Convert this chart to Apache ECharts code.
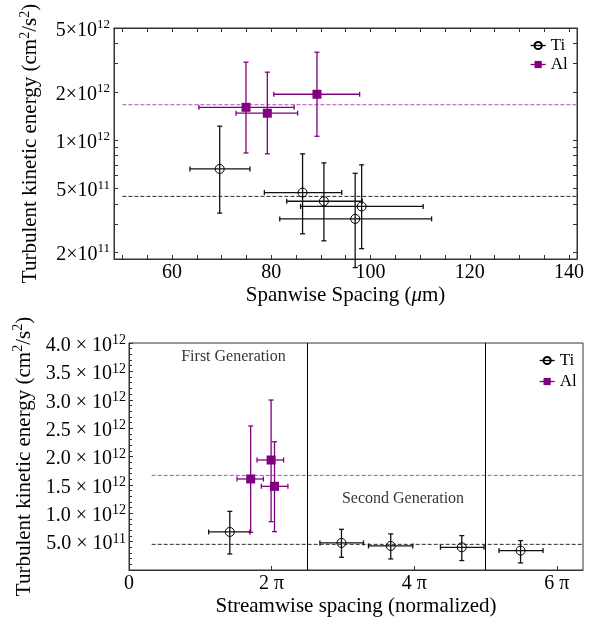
<!DOCTYPE html>
<html>
<head>
<meta charset="utf-8">
<script src="https://cdn.jsdelivr.net/npm/echarts@6/dist/echarts.min.js"></script>
<style>
  html, body { margin: 0; padding: 0; background: #fff; }
  #main { width: 601px; height: 625px; }
</style>
</head>
<body>
<div id="main"></div>
<script>
// ---------- top panel: TKE vs spanwise spacing (um) ----------
var tiX    = [69.6, 86.3, 90.6, 98.2, 96.9];
var tiY    = [6.6e11, 4.7e11, 4.15e11, 3.85e11, 3.22e11];
var tiXlo  = [63.6, 78.6, 83.1, 85.9, 81.7];
var tiXhi  = [75.7, 94.2, 98.3, 110.6, 112.3];
var tiYlo  = [3.5e11, 2.6e11, 2.35e11, 2.1e11, 1.6e11];
var tiYhi  = [1.22e12, 8.2e11, 7.2e11, 7.0e11, 6.2e11];

var alX    = [74.9, 79.2, 89.2];
var alY    = [1.6e12, 1.47e12, 1.93e12];
var alXlo  = [65.4, 72.9, 80.5];
var alXhi  = [84.6, 85.3, 97.8];
var alYlo  = [8.3e11, 8.2e11, 1.055e12];
var alYhi  = [3.06e12, 2.65e12, 3.53e12];

var topMeanTi = 4.45e11;
var topMeanAl = 1.66e12;
var topMeanFrom = 50;
var topXRange = [48.3, 141.6];
var topYRange = [1.81e11, 5e12];
var topXTicks  = [50, 55, 60, 65, 70, 75, 80, 85, 90, 95, 100, 105, 110, 115, 120, 125, 130, 135, 140];
var topXLabels = [60, 80, 100, 120, 140];
var topYTicks  = [2e11, 3e11, 4e11, 5e11, 6e11, 7e11, 8e11, 9e11, 1e12, 2e12, 3e12, 4e12, 5e12];
var topYLabels = [2e11, 5e11, 1e12, 2e12, 5e12];

// ---------- bottom panel: TKE vs streamwise spacing (normalized) ----------
var ti2X   = [4.44, 9.36, 11.53, 14.66, 17.25];
var ti2Y   = [6.71e11, 4.77e11, 4.24e11, 4.0e11, 3.42e11];
var ti2Xlo = [3.51, 8.41, 10.55, 13.72, 16.3];
var ti2Xhi = [5.33, 10.33, 12.5, 15.64, 18.24];
var ti2Ylo = [2.83e11, 2.24e11, 1.95e11, 1.66e11, 1.25e11];
var ti2Yhi = [1.033e12, 7.17e11, 6.36e11, 6.06e11, 5.18e11];

var al2X   = [5.36, 6.26, 6.41];
var al2Y   = [1.604e12, 1.938e12, 1.474e12];
var al2Xlo = [4.76, 5.64, 5.83];
var al2Xhi = [5.92, 6.81, 7.0];
var al2Ylo = [6.64e11, 8.52e11, 6.76e11];
var al2Yhi = [2.537e12, 2.995e12, 2.26e12];

var botMeanTi = 4.52e11;
var botMeanAl = 1.667e12;
var botMeanFrom = 1.0;
var botXRange = [0, 20];
var botYRange = [0, 4e12];
var botXTicks = [0, 2 * Math.PI, 4 * Math.PI, 6 * Math.PI];
var botXTickNames = ['0', '2 π', '4 π', '6 π'];
var generationEdges = [2.5 * Math.PI, 5 * Math.PI];
var genNames = ['First Generation', 'Second Generation'];
var genPos   = [[4.6, 3.76e12], [12.07, 1.257e12]];

var FONT = 'Liberation Serif';
var PURPLE = '#800080';
var PURPLE_DASH = '#b050b0';
var BLACK_DASH = '#2a2a2a';
var AXIS = '#333';

function rows(x, y, xlo, xhi, ylo, yhi) {
  var out = [];
  for (var i = 0; i < x.length; i++) out.push([x[i], y[i], xlo[i], xhi[i], ylo[i], yhi[i]]);
  return out;
}
function pts(x, y) {
  var out = [];
  for (var i = 0; i < x.length; i++) out.push([x[i], y[i]]);
  return out;
}

// error bars with small caps
function errorBars(color) {
  return function (params, api) {
    var x = api.value(0), y = api.value(1);
    var l = api.coord([api.value(2), y]);
    var r = api.coord([api.value(3), y]);
    var b = api.coord([x, api.value(4)]);
    var t = api.coord([x, api.value(5)]);
    var cap = 2.5;
    var st = { stroke: color, lineWidth: 1.3 };
    function ln(x1, y1, x2, y2) {
      return { type: 'line', shape: { x1: x1, y1: y1, x2: x2, y2: y2 }, style: st };
    }
    return {
      type: 'group',
      children: [
        ln(l[0], l[1], r[0], r[1]),
        ln(l[0], l[1] - cap, l[0], l[1] + cap),
        ln(r[0], r[1] - cap, r[0], r[1] + cap),
        ln(b[0], b[1], t[0], t[1]),
        ln(b[0] - cap, b[1], b[0] + cap, b[1]),
        ln(t[0] - cap, t[1], t[0] + cap, t[1])
      ]
    };
  };
}

// "5×10^12" style labels
function sci(v, digits, sep) {
  var e = Math.floor(Math.log10(v) + 1e-9);
  var m = v / Math.pow(10, e);
  return '{n|' + m.toFixed(digits) + sep + '×' + sep + '10}{s|' + e + '}';
}

var tickRich = {
  n: { fontFamily: FONT, fontSize: 20, color: '#000', lineHeight: 24 },
  s: { fontFamily: FONT, fontSize: 13, color: '#000', lineHeight: 13, verticalAlign: 'top' }
};
var tickRich2 = {
  n: { fontFamily: FONT, fontSize: 20, color: '#000', lineHeight: 24 },
  s: { fontFamily: FONT, fontSize: 14, color: '#000', lineHeight: 14, verticalAlign: 'top' }
};
var yName = '{n|Turbulent kinetic energy (cm}{s|2}{n|/s}{s|2}{n|)}';
var yNameStyle = {
  rich: {
    n: { fontFamily: FONT, fontSize: 21, color: '#000', lineHeight: 25 },
    s: { fontFamily: FONT, fontSize: 14, color: '#000', lineHeight: 14, verticalAlign: 'top' }
  }
};
var axLine = { lineStyle: { color: AXIS, width: 1 } };

var chart = echarts.init(document.getElementById('main'));

chart.setOption({
  animation: false,
  backgroundColor: '#fff',
  textStyle: { fontFamily: FONT },
  grid: [
    { left: 114, top: 28, width: 463, height: 231, show: true, borderColor: AXIS, borderWidth: 1 },
    { left: 129, top: 343, width: 454, height: 227, show: true, borderColor: AXIS, borderWidth: 1 }
  ],
  legend: [
    {
      orient: 'vertical', left: 525, top: 32, itemWidth: 15, itemHeight: 9, itemGap: 2,
      textStyle: { fontFamily: FONT, fontSize: 17, color: '#000' },
      data: [
        { name: 'Ti', lineStyle: { opacity: 1, color: '#000', width: 1.3 } },
        { name: 'Al', lineStyle: { opacity: 1, color: PURPLE, width: 1.3 } }
      ]
    },
    {
      orient: 'vertical', left: 534, top: 347, itemWidth: 15, itemHeight: 9, itemGap: 4,
      textStyle: { fontFamily: FONT, fontSize: 17, color: '#000' },
      data: [
        { name: 'Ti', lineStyle: { opacity: 1, color: '#000', width: 1.3 } },
        { name: 'Al', lineStyle: { opacity: 1, color: PURPLE, width: 1.3 } }
      ]
    }
  ],
  xAxis: [
    {
      gridIndex: 0, type: 'value', position: 'bottom', min: topXRange[0], max: topXRange[1],
      axisLine: axLine, splitLine: { show: false },
      axisTick: { inside: true, length: 4, customValues: topXTicks, lineStyle: { color: AXIS } },
      axisLabel: { customValues: topXLabels, fontSize: 20, color: '#000', margin: 4 },
      name: '{n|Spanwise Spacing (}{i|μ}{n|m)}', nameLocation: 'middle', nameGap: 26,
      nameTextStyle: { rich: {
        n: { fontFamily: FONT, fontSize: 21, color: '#000' },
        i: { fontFamily: FONT, fontSize: 21, color: '#000', fontStyle: 'italic' }
      } }
    },
    {
      gridIndex: 0, type: 'value', position: 'top', min: topXRange[0], max: topXRange[1],
      axisLine: axLine, splitLine: { show: false },
      axisTick: { inside: true, length: 4, customValues: topXTicks, lineStyle: { color: AXIS } },
      axisLabel: { show: false }
    },
    {
      gridIndex: 1, type: 'value', min: botXRange[0], max: botXRange[1],
      axisLine: axLine, splitLine: { show: false },
      axisTick: { inside: true, length: 4, customValues: botXTicks, lineStyle: { color: AXIS } },
      axisLabel: {
        customValues: botXTicks, fontSize: 20, color: '#000', margin: 4,
        formatter: function (v) {
          for (var i = 0; i < botXTicks.length; i++) {
            if (Math.abs(v - botXTicks[i]) < 1e-6) return botXTickNames[i];
          }
          return '';
        }
      },
      name: 'Streamwise spacing (normalized)', nameLocation: 'middle', nameGap: 26,
      nameTextStyle: { fontFamily: FONT, fontSize: 21, color: '#000' }
    }
  ],
  yAxis: [
    {
      gridIndex: 0, type: 'log', logBase: 10, position: 'left', min: topYRange[0], max: topYRange[1],
      axisLine: axLine, splitLine: { show: false },
      axisTick: { inside: true, length: 4, customValues: topYTicks, lineStyle: { color: AXIS } },
      axisLabel: {
        customValues: topYLabels, margin: 4, padding: [5, 0, 0, 0], rich: tickRich,
        formatter: function (v) { return sci(v, 0, ''); }
      },
      name: yName, nameLocation: 'middle', nameGap: 71, nameRotate: 90, nameTextStyle: yNameStyle
    },
    {
      gridIndex: 0, type: 'log', logBase: 10, position: 'right', min: topYRange[0], max: topYRange[1],
      axisLine: axLine, splitLine: { show: false },
      axisTick: { inside: true, length: 4, customValues: topYTicks, lineStyle: { color: AXIS } },
      axisLabel: { show: false }
    },
    {
      gridIndex: 1, type: 'value', min: botYRange[0], max: botYRange[1], interval: 5e11,
      axisLine: axLine, splitLine: { show: false },
      axisTick: { inside: true, length: 4, lineStyle: { color: AXIS } },
      minorTick: { show: true, splitNumber: 5, length: 3, lineStyle: { color: AXIS } },
      axisLabel: {
        margin: 3, padding: [5, 0, 0, 0], rich: tickRich2,
        formatter: function (v) { return v === 0 ? '' : sci(v, 1, ' '); }
      },
      name: yName, nameLocation: 'middle', nameGap: 86, nameRotate: 90, nameTextStyle: yNameStyle
    }
  ],
  series: [
    // ----- top panel -----
    { type: 'line', silent: true, xAxisIndex: 0, yAxisIndex: 0, showSymbol: false, z: 1,
      data: [[topMeanFrom, topMeanTi], [topXRange[1], topMeanTi]],
      lineStyle: { color: BLACK_DASH, width: 1, type: [4, 2] } },
    { type: 'line', silent: true, xAxisIndex: 0, yAxisIndex: 0, showSymbol: false, z: 1,
      data: [[topMeanFrom, topMeanAl], [topXRange[1], topMeanAl]],
      lineStyle: { color: PURPLE_DASH, width: 1, type: [4, 2] } },
    { type: 'custom', xAxisIndex: 0, yAxisIndex: 0, clip: false, z: 2,
      renderItem: errorBars('#111'), encode: { x: 0, y: 1 },
      data: rows(tiX, tiY, tiXlo, tiXhi, tiYlo, tiYhi) },
    { type: 'custom', xAxisIndex: 0, yAxisIndex: 0, clip: false, z: 2,
      renderItem: errorBars(PURPLE), encode: { x: 0, y: 1 },
      data: rows(alX, alY, alXlo, alXhi, alYlo, alYhi) },
    { name: 'Ti', type: 'line', xAxisIndex: 0, yAxisIndex: 0, z: 3, showAllSymbol: true,
      symbol: 'circle', symbolSize: 9,
      itemStyle: { color: 'rgba(0,0,0,0)', borderColor: '#000', borderWidth: 1 },
      lineStyle: { color: '#000', opacity: 0 },
      data: pts(tiX, tiY) },
    { name: 'Al', type: 'line', xAxisIndex: 0, yAxisIndex: 0, z: 3, showAllSymbol: true,
      symbol: 'rect', symbolSize: 9,
      itemStyle: { color: PURPLE },
      lineStyle: { color: PURPLE, opacity: 0 },
      data: pts(alX, alY) },

    // ----- bottom panel -----
    { type: 'line', silent: true, xAxisIndex: 2, yAxisIndex: 2, showSymbol: false, z: 1,
      data: [[botMeanFrom, botMeanTi], [botXRange[1], botMeanTi]],
      lineStyle: { color: BLACK_DASH, width: 1, type: [4, 2] },
      markLine: {
        silent: true, symbol: 'none', label: { show: false },
        lineStyle: { color: '#000', width: 1, type: 'solid' },
        data: generationEdges.map(function (v) { return { xAxis: v }; })
      } },
    { type: 'line', silent: true, xAxisIndex: 2, yAxisIndex: 2, showSymbol: false, z: 1,
      data: [[botMeanFrom, botMeanAl], [botXRange[1], botMeanAl]],
      lineStyle: { color: PURPLE_DASH, width: 1, type: [4, 2] } },
    { type: 'custom', xAxisIndex: 2, yAxisIndex: 2, z: 2,
      renderItem: errorBars('#111'), encode: { x: 0, y: 1 },
      data: rows(ti2X, ti2Y, ti2Xlo, ti2Xhi, ti2Ylo, ti2Yhi) },
    { type: 'custom', xAxisIndex: 2, yAxisIndex: 2, z: 2,
      renderItem: errorBars(PURPLE), encode: { x: 0, y: 1 },
      data: rows(al2X, al2Y, al2Xlo, al2Xhi, al2Ylo, al2Yhi) },
    { name: 'Ti', type: 'line', xAxisIndex: 2, yAxisIndex: 2, z: 3, showAllSymbol: true,
      symbol: 'circle', symbolSize: 9,
      itemStyle: { color: 'rgba(0,0,0,0)', borderColor: '#000', borderWidth: 1 },
      lineStyle: { color: '#000', opacity: 0 },
      data: pts(ti2X, ti2Y) },
    { name: 'Al', type: 'line', xAxisIndex: 2, yAxisIndex: 2, z: 3, showAllSymbol: true,
      symbol: 'rect', symbolSize: 9,
      itemStyle: { color: PURPLE },
      lineStyle: { color: PURPLE, opacity: 0 },
      data: pts(al2X, al2Y) },
    // generation annotations
    { type: 'scatter', silent: true, xAxisIndex: 2, yAxisIndex: 2, symbolSize: 1, z: 4,
      itemStyle: { color: 'rgba(0,0,0,0)' },
      label: { show: true, position: 'inside', fontFamily: FONT, fontSize: 16, color: '#000',
               formatter: function (p) { return genNames[p.dataIndex]; } },
      data: genPos }
  ]
});
</script>
</body>
</html>
